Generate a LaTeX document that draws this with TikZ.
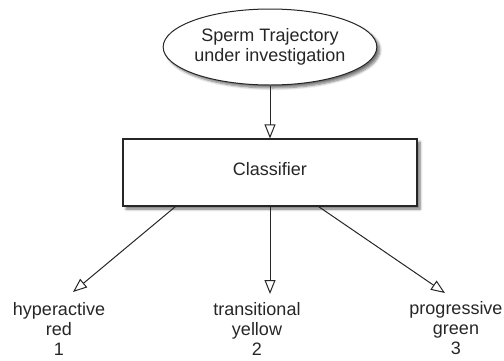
\documentclass[tikz,border=0pt]{standalone}
\usepackage{fontspec}
\setmainfont{Liberation Sans}
\usetikzlibrary{shapes.geometric,arrows.meta,shadows.blur,calc}

\tikzset{
  every node/.style={font=\fontsize{18}{20}\selectfont, text=black!85},
  shade/.style={blur shadow={shadow xshift=3pt, shadow yshift=-3pt,
                shadow blur steps=6, shadow blur radius=2.5pt, shadow opacity=55}},
  startbox/.style={ellipse, draw=black!85, line width=1pt, fill=white,
                   minimum width=207pt, minimum height=76pt, inner sep=0pt,
                   align=center, shade},
  classbox/.style={rectangle, draw=black!85, line width=1.2pt, fill=white,
                   minimum width=294pt, minimum height=67pt, inner sep=0pt,
                   text depth=8pt, shade},
  outlabel/.style={align=center, inner sep=0pt},
  flow/.style={draw=black!85, line width=1pt,
               -{Triangle[open, length=14pt, width=11pt, line width=1pt]}}
}

\begin{document}
\begin{tikzpicture}[x=1pt, y=-1pt]
  \useasboundingbox (0,0) rectangle (504,360);

  % input and classifier
  \node[startbox] (input) at (270,47) {Sperm Trajectory\\under investigation};
  \node[classbox] (cls) at (270,172.5) {Classifier};

  % output classes
  \node[outlabel] (hyper) at (59,328.5) {hyperactive\\red\\1};
  \node[outlabel] (trans) at (257,328.5) {transitional\\yellow\\2};
  \node[outlabel] (prog)  at (456,328.5) {progressive\\green\\3};

  % arrow tips just above the class labels
  \coordinate (t1) at (73,292);
  \coordinate (t2) at (270,294);
  \coordinate (t3) at (445,293);

  \draw[flow] (input.south) -- (cls.north);
  \draw[flow] ([xshift=53pt]cls.south west) -- (t1);
  \draw[flow] (cls.south) -- (t2);
  \draw[flow] ([xshift=-99pt]cls.south east) -- (t3);
\end{tikzpicture}
\end{document}
